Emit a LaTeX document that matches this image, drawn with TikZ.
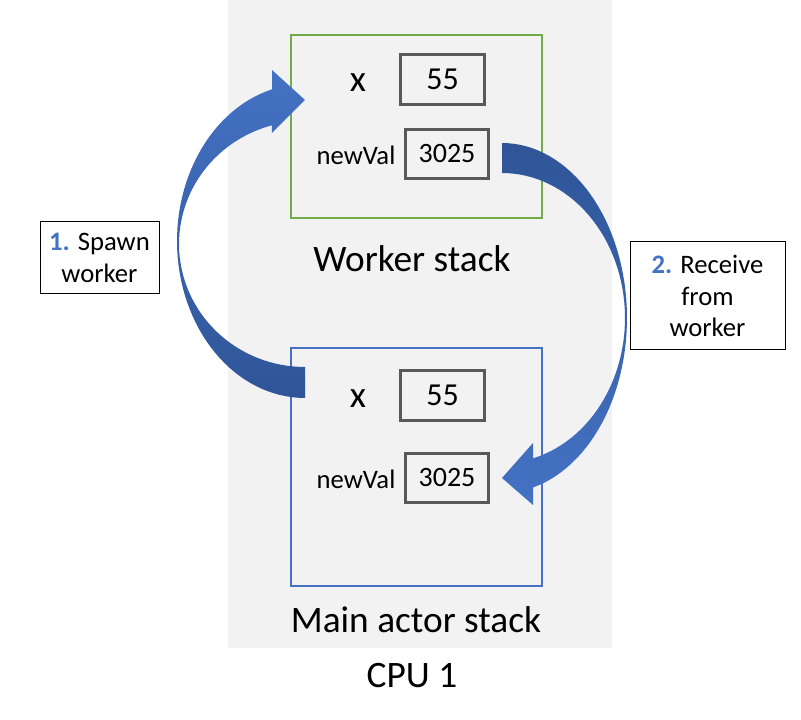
\documentclass[tikz,border=0pt]{standalone}
\usepackage{fontspec}
\setmainfont{Carlito}
\usetikzlibrary{positioning}
\definecolor{cpugray}{HTML}{F2F2F2}
\definecolor{workgreen}{HTML}{70AD47}
\definecolor{mainblue}{HTML}{4472C4}
\definecolor{valgray}{HTML}{595959}
\definecolor{arrowdark}{HTML}{2F5597}
\tikzset{
	stackbox/.style = {draw, line width=2.2pt, minimum width=188.25pt},
	valbox/.style = {draw=valgray, line width=2.3pt, minimum width=62.6pt, minimum height=37pt, inner sep=0pt},
	notebox/.style = {draw, line width=0.75pt, align=center, inner sep=0pt, font=\fontsize{20}{23.5}\selectfont},
	bigtext/.style = {font=\fontsize{28}{33}\selectfont},
	vartext/.style = {font=\fontsize{20}{24}\selectfont}
}

\begin{document}
\begin{tikzpicture}[x=0.75pt, y=-0.75pt]
\useasboundingbox (0,0) rectangle (801,720);

% CPU area
\fill [cpugray] (228,0) rectangle (612,648);

% NODES
% worker stack
\node (work) [stackbox, draw=workgreen, minimum height=137.25pt] at (416.5,126.5) {};
\node (wx) [font=\fontsize{28}{33}\selectfont] at (358,83) {x};
\node (wxval) [valbox, font=\fontsize{24}{28}\selectfont] at (442.5,79.5) {55};
\node (wnew) [vartext] at (356,155) {newVal};
\node (wnewval) [valbox, font=\fontsize{21}{25}\selectfont] at (447,154) {3025};
\node (worklabel) [bigtext] at (412,259) {Worker stack};
% main actor stack
\node (main) [stackbox, draw=mainblue, minimum height=178.5pt] at (416.5,467) {};
\node (mx) [font=\fontsize{28}{33}\selectfont] at (358,399) {x};
\node (mxval) [valbox, font=\fontsize{24}{28}\selectfont] at (442.5,395.5) {55};
\node (mnew) [vartext] at (356,479) {newVal};
\node (mnewval) [valbox, font=\fontsize{21}{25}\selectfont] at (447,478) {3025};
\node (mainlabel) [bigtext] at (416,620) {Main actor stack};
\node (cpulabel) [bigtext] at (412,676) {CPU 1};
% step notes
\node (spawn) [notebox, minimum width=89.25pt, minimum height=54pt] at (99.5,258)
	{{\color{mainblue}\bfseries 1.} Spawn\\worker};
\node (receive) [notebox, minimum width=116.25pt, minimum height=81pt] at (707.5,296)
	{{\color{mainblue}\bfseries 2.} Receive\\from\\worker};

% ARROWS
% spawn: main -> worker
\shade [top color=mainblue, bottom color=arrowdark]
	plot [domain=90:254.8, samples=60] ({305+126*cos(\x)}, {244+123*sin(\x)})
	-- (272,133) -- (305,100) -- (272,70)
	-- plot [domain=255.06:90, samples=60] ({305+128*cos(\x)}, {241+157*sin(\x)})
	-- cycle;
% receive: worker -> main
\shade [top color=arrowdark, bottom color=mainblue]
	plot [domain=-90:75.6, samples=60] ({502+125*cos(\x)}, {318+175*sin(\x)})
	-- (533,505) -- (502,478) -- (533,443)
	-- plot [domain=75.4:-90, samples=60] ({502+123*cos(\x)}, {318+145*sin(\x)})
	-- cycle;

\end{tikzpicture}
\end{document}
